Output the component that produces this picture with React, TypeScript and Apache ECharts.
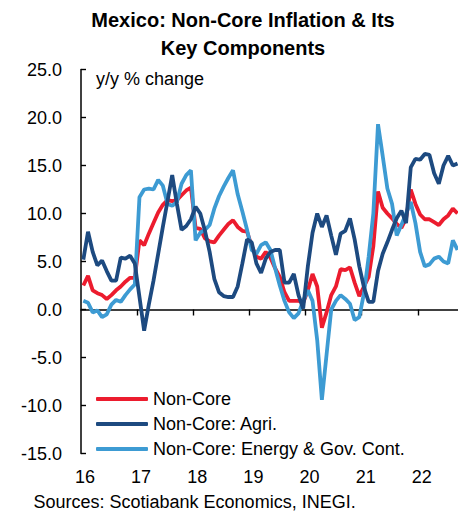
import React, { useEffect, useRef } from "react";
import * as echarts from "echarts";

// Monthly data, Jan 2016 (index 0) .. Sep 2022 (index 80), y/y % change
const yearLabels = ["16", "17", "18", "19", "20", "21", "22"];

const nonCore = [
  2.5, 3.5, 2.0, 1.7, 1.5, 1.1, 1.5, 2.0, 2.4, 2.9, 3.3, 3.3,
  7.2, 6.7, 7.9, 9.0, 10.1, 10.9, 11.4, 11.3, 11.4, 11.9, 12.4, 12.7,
  8.5, 8.4, 7.4, 7.1, 7.0, 7.7, 8.3, 8.9, 9.3, 8.6, 8.2, 8.1,
  6.6, 5.5, 5.3, 6.0, 5.4, 4.3, 3.4, 1.8, 0.9, 0.9, 0.9, 0.7,
  2.0, 3.7, 2.4, -1.9, -0.3, 1.5, 2.4, 4.2, 4.1, 4.4, 2.8, 1.4,
  2.4, 3.4, 6.6, 12.3, 10.6, 10.0, 9.5, 8.9, 8.5, 9.5, 12.5, 11.0,
  9.9, 9.4, 9.4, 9.1, 8.8, 9.4, 9.8, 10.5, 10.0,
];

const agri = [
  5.2, 8.1, 6.0, 4.6, 5.1, 4.0, 3.0, 3.0, 5.4, 5.3, 5.6, 4.8,
  1.3, -2.2, 0.5, 3.0, 5.8, 8.6, 11.3, 14.0, 11.0, 8.3, 8.7, 9.4,
  10.7, 10.0, 8.2, 6.0, 3.2, 1.8, 1.4, 1.3, 1.3, 2.4, 4.8, 7.3,
  7.0, 4.8, 3.8, 5.3, 6.0, 6.2, 6.2, 2.8, 2.8, 3.7, 1.5, 0.1,
  4.5, 8.0, 10.0, 8.6, 9.8, 7.7, 5.7, 7.9, 8.2, 9.5, 7.3, 4.5,
  2.3, 0.8, 0.8, 4.0, 5.8, 7.0, 8.3, 9.5, 10.3, 9.0, 14.8, 15.7,
  15.6, 16.2, 16.1, 14.2, 13.1, 15.0, 16.0, 15.0, 15.2,
];

const energy = [
  0.9, 0.7, -0.3, -0.1, -0.8, -0.5, 0.5, 1.0, 0.8, 1.5, 2.1, 2.6,
  11.7, 12.5, 12.6, 12.5, 13.5, 12.9, 11.0, 10.8, 11.2, 13.1, 14.0, 14.5,
  7.2, 8.0, 8.3, 8.8, 10.5, 11.8, 12.8, 13.7, 14.5, 12.0, 10.2, 8.3,
  6.2, 5.8, 6.7, 7.0, 6.2, 4.3, 2.5, 0.9, -0.3, -0.9, -0.4, 0.9,
  2.0, 0.9, -3.2, -9.4, -4.7, 0.0, 0.9, 1.5, 1.1, 0.6, -1.1, -0.8,
  1.7, 5.5, 10.0, 19.3, 16.0, 12.6, 11.0, 7.7, 8.8, 10.0, 11.2, 9.0,
  6.0, 4.5, 4.7, 5.3, 5.5, 5.0, 4.8, 7.2, 6.2,
];

const yearTickMonths = [12, 24, 36, 48, 60, 72];
const yearLabelMonths = [0, 12, 24, 36, 48, 60, 72];

const seriesNames = ["Non-Core", "Non-Core: Agri.", "Non-Core: Energy & Gov. Cont."];
const titleLines = ["Mexico: Non-Core Inflation & Its", "Key Components"];
const unitLabel = "y/y % change";
const sourceText = "Sources: Scotiabank Economics, INEGI.";

const FONT = "'Liberation Sans', Arial, sans-serif";
const RED = "#ec1c2e";
const DARK = "#1d4a80";
const LIGHT = "#3d9bd3";

const toPoints = (vals: number[]) => vals.map((v, i) => [i + 0.5, v]);

export default function App() {
  const ref = useRef<HTMLDivElement>(null);

  useEffect(() => {
    if (!ref.current) return;
    const chart = echarts.init(ref.current, undefined, { renderer: "svg" });
    const xLabelFmt = (v: number) => {
      if (v % 12 !== 0) return "";
      const idx = v / 12;
      return idx < yearLabels.length ? yearLabels[idx] : "";
    };
    const lineSeries = (name: string, data: number[], color: string, z: number) => ({
      name,
      type: "line",
      data: toPoints(data),
      showSymbol: false,
      symbol: "none",
      z,
      lineStyle: { color, width: 3.8 },
      itemStyle: { color },
    });
    chart.setOption({
      animation: false,
      backgroundColor: "#ffffff",
      textStyle: { fontFamily: FONT },
      grid: { left: 81, top: 69.5, width: 378, height: 384, containLabel: false },
      xAxis: [
        {
          type: "value",
          position: "top",
          min: 0,
          max: 80.6,
          interval: 12,
          axisLine: { show: true, onZero: true, lineStyle: { color: "#000", width: 1.6 } },
          axisTick: {
            show: true,
            inside: true,
            length: 6,
            customValues: yearTickMonths,
            lineStyle: { color: "#000", width: 1.4 },
          },
          axisLabel: { show: false },
          splitLine: { show: false },
        },
        {
          type: "value",
          position: "bottom",
          min: 0,
          max: 80.6,
          interval: 12,
          axisLine: { show: false, onZero: false },
          axisTick: { show: false },
          axisLabel: {
            show: true,
            customValues: yearLabelMonths,
            formatter: xLabelFmt,
            fontSize: 18,
            color: "#000",
            fontFamily: FONT,
            margin: 14,
            padding: [0, 0, 0, 8],
          },
          splitLine: { show: false },
        },
      ],
      yAxis: {
        type: "value",
        min: -15,
        max: 25,
        interval: 5,
        axisLine: { show: true, lineStyle: { color: "#000", width: 1.5 } },
        axisTick: { show: true, inside: true, length: 5, lineStyle: { color: "#000", width: 1.4 } },
        axisLabel: {
          formatter: (v: number) => v.toFixed(1),
          fontSize: 18,
          color: "#000",
          fontFamily: FONT,
          margin: 19,
        },
        splitLine: { show: false },
      },
      legend: {
        orient: "vertical",
        left: 96,
        top: 389,
        padding: 0,
        icon: "roundRect",
        itemWidth: 52,
        itemHeight: 4,
        itemGap: 5,
        data: seriesNames,
        textStyle: { fontSize: 18, lineHeight: 20, color: "#000", fontFamily: FONT },
      },
      series: [
        lineSeries(seriesNames[0], nonCore, RED, 2),
        lineSeries(seriesNames[1], agri, DARK, 4),
        lineSeries(seriesNames[2], energy, LIGHT, 3),
      ],
      graphic: [
        {
          type: "text",
          x: 243,
          y: 20,
          style: { text: titleLines[0], fontSize: 20, fontWeight: "bold", fontFamily: FONT, fill: "#000", align: "center", verticalAlign: "middle" },
        },
        {
          type: "text",
          x: 243,
          y: 48,
          style: { text: titleLines[1], fontSize: 20, fontWeight: "bold", fontFamily: FONT, fill: "#000", align: "center", verticalAlign: "middle" },
        },
        {
          type: "text",
          x: 96,
          y: 79,
          style: { text: unitLabel, fontSize: 18, fontFamily: FONT, fill: "#000", align: "left", verticalAlign: "middle" },
        },
        {
          type: "text",
          x: 33.5,
          y: 502,
          style: { text: sourceText, fontSize: 18, fontFamily: FONT, fill: "#000", align: "left", verticalAlign: "middle" },
        },
      ],
    });
    return () => chart.dispose();
  }, []);

  return (
    <div
      ref={ref}
      style={{ position: "fixed", left: 0, top: 0, width: 458, height: 512, background: "#fff" }}
    />
  );
}
